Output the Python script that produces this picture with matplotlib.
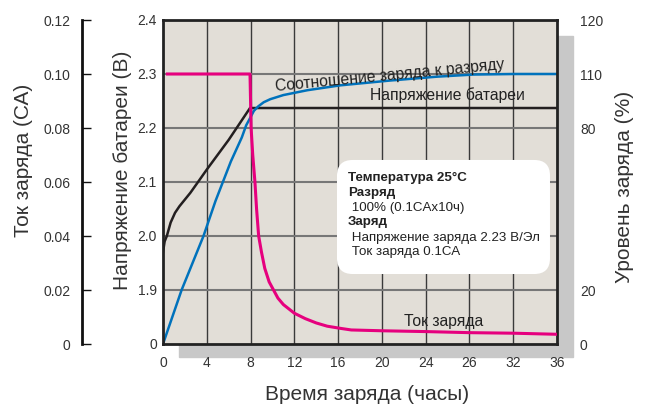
import numpy as np
import matplotlib
matplotlib.use("Agg")
import matplotlib.pyplot as plt
import matplotlib.patches as mpatches

plt.rcParams["font.family"] = ["Liberation Sans", "DejaVu Sans"]

# battery voltage (V)
hours_v = [0, 0.15, 0.35, 0.7, 1.1, 1.5, 1.9, 2.5, 3.2, 4, 6, 7.95, 36]
volt = [1.97, 1.99, 2.0, 2.025, 2.043, 2.055, 2.065, 2.08, 2.1, 2.123, 2.178, 2.237, 2.237]

# charge ratio (%)
hours_p = [0, 1.7, 3.7, 4.8, 6.2, 7.2, 7.6, 8.0, 8.3, 8.7, 9.2, 9.8, 11.0, 13.2, 16.2, 20.8, 25.0, 28.4, 32, 36]
pct = [0, 20, 40, 53, 67.6, 76.5, 81.5, 86, 89.5, 92, 94.3, 96, 98.3, 101, 103.7, 106.4, 108.5, 109.7, 110, 110]

# charge current (CA)
hours_i = [0.4, 7.95, 8.05, 8.2, 8.4, 8.55, 8.74, 9.0, 9.3, 9.7, 10.1, 10.5, 11, 11.5, 12,
           13, 14, 15, 16.2, 17.2, 20, 24, 28, 32, 36]
current = [0.10, 0.10, 0.08, 0.07, 0.06, 0.05, 0.04, 0.034, 0.028, 0.023, 0.02, 0.017,
           0.0146, 0.013, 0.0114, 0.0094, 0.0078, 0.0066, 0.0058, 0.0052, 0.0049, 0.0046,
           0.0042, 0.004, 0.0036]

x_ticks = [0, 4, 8, 12, 16, 20, 24, 28, 32, 36]
x_labels = ["0", "4", "8", "12", "16", "20", "24", "26", "32", "36"]
v_ticks = [1.8, 1.9, 2.0, 2.1, 2.2, 2.3, 2.4]
v_labels = ["0", "1.9", "2.0", "2.1", "2.2", "2.3", "2.4"]
pct_ticks = [0, 20, 80, 110, 120]
i_ticks = [0, 0.02, 0.04, 0.06, 0.08, 0.10, 0.12]
i_labels = ["0", "0.02", "0.04", "0.06", "0.08", "0.10", "0.12"]

# percent scale is drawn against the voltage grid lines
pct_pos = [1.8, 1.9, 2.2, 2.3, 2.4]

txt = "#333333"
bg = "#e2ded7"

fig = plt.figure(figsize=(6.48, 4.12), dpi=100)
ax = fig.add_axes([163 / 648, 68 / 412, 394 / 648, 324 / 412])
ax.set_facecolor(bg)

# drop shadow
fig.patches.append(mpatches.Rectangle((179 / 648, 55 / 412), 394 / 648, 321 / 412,
                                      transform=fig.transFigure, color="#c8c8c8", zorder=-1))

ax.set_xlim(0, 36)
ax.set_ylim(1.8, 2.4)
ax.set_xticks(x_ticks)
ax.set_xticklabels(x_labels)
ax.set_yticks(v_ticks)
ax.set_yticklabels(v_labels)
ax.tick_params(axis="x", length=0, pad=8.5, labelsize=10, labelcolor=txt)
ax.tick_params(axis="y", length=0, pad=4.5, labelsize=10, labelcolor=txt)
for x in x_ticks[1:-1]:
    ax.axvline(x, color="#3a3a3a", lw=1.0, zorder=1)
for y in v_ticks[1:-1]:
    ax.axhline(y, color="#777777", lw=1.5, zorder=1)
for s in ax.spines.values():
    s.set_color("#222222")
    s.set_linewidth(2)
    s.set_zorder(5)

ax.plot(hours_v, volt, color="#231f20", lw=1.8, zorder=3)
ax.plot(hours_p, np.interp(pct, pct_ticks, pct_pos), color="#0072bc", lw=1.8, zorder=3)

# info box
box = mpatches.FancyBboxPatch((0.4416, 0.216), 0.5406, 0.352, transform=ax.transAxes,
                              boxstyle="round,pad=0,rounding_size=0.04",
                              mutation_aspect=394 / 324, fc="white", ec="none", zorder=4)
ax.add_patch(box)
info = [("Температура 25°C", "bold"), ("Разряд", "bold"), (" 100% (0.1CAx10ч)", "normal"),
        ("Заряд", "bold"), (" Напряжение заряда 2.23 В/Эл", "normal"), (" Ток заряда 0.1СА", "normal")]
ys = [0.513, 0.467, 0.419, 0.375, 0.327, 0.285]
for (s, w), y in zip(info, ys):
    ax.text(0.4695, y, s, transform=ax.transAxes, fontsize=9.6, fontweight=w,
            color="#222222", va="center", ha="left", zorder=6)

ax.text(20.7, 2.297, "Соотношение заряда к разряду", fontsize=11.3, color="#222222",
        rotation=5.5, rotation_mode="anchor", ha="center", va="center", zorder=4)
ax.text(26.0, 2.261, "Напряжение батареи", fontsize=11.3, color="#222222",
        ha="center", va="center", zorder=4)
ax.text(25.6, 1.841, "Ток заряда", fontsize=11.3, color="#222222",
        ha="center", va="center", zorder=4)

# right percent axis
ax_r = ax.twinx()
ax_r.set_ylim(1.8, 2.4)
ax_r.set_yticks(pct_pos)
ax_r.set_yticklabels([str(p) for p in pct_ticks])
ax_r.tick_params(axis="y", length=0, pad=16.5, labelsize=10, labelcolor=txt)
for s in ax_r.spines.values():
    s.set_visible(False)

# left current axis
ax_c = ax.twinx()
ax_c.set_ylim(0, 0.12)
ax_c.yaxis.set_label_position("left")
ax_c.yaxis.set_ticks_position("left")
ax_c.spines["left"].set_position(("axes", -81 / 394))
ax_c.spines["left"].set_linewidth(2.0)
ax_c.spines["left"].set_color("#111111")
for k in ["right", "top", "bottom"]:
    ax_c.spines[k].set_visible(False)
ax_c.set_yticks(i_ticks)
ax_c.set_yticklabels(i_labels)
ax_c.tick_params(axis="y", direction="in", length=6.5, width=1, pad=8.5,
                 labelsize=10, labelcolor=txt, color="#111111")
ax_c.plot(hours_i, current, color="#e6007e", lw=2.2, zorder=3)

fig.text(24 / 648, 1 - 160 / 412, "Ток заряда (СА)", rotation=90, fontsize=15,
         color=txt, ha="center", va="center")
fig.text(122 / 648, 1 - 170 / 412, "Напряжение батареи (В)", rotation=90, fontsize=15,
         color=txt, ha="center", va="center")
fig.text(625 / 648, 1 - 187 / 412, "Уровень заряда (%)", rotation=90, fontsize=15,
         color=txt, ha="center", va="center")
fig.text(367 / 648, 1 - 395 / 412, "Время заряда (часы)", fontsize=15,
         color=txt, ha="center", va="center")

fig.savefig("out.png", dpi=100)
